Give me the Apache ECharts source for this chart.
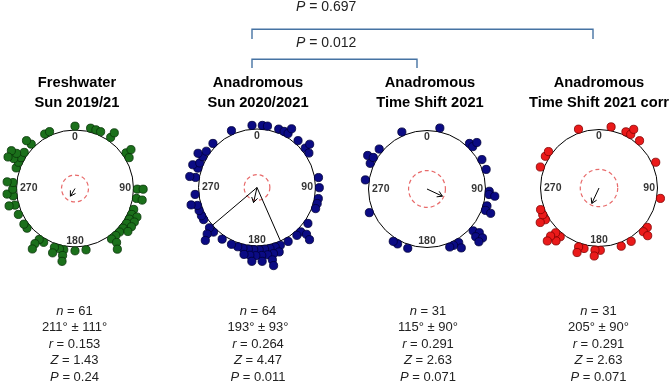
<!DOCTYPE html>
<html><head><meta charset="utf-8">
<script src="https://cdn.jsdelivr.net/npm/echarts@6/dist/echarts.min.js"></script>
<style>html,body{margin:0;padding:0;background:#fff}#c{width:669px;height:383px}</style>
</head><body><div id="c"></div>
<script>
// ---------- data ----------
const titles = ['Freshwater\nSun 2019/21', 'Anadromous\nSun 2020/2021', 'Anadromous\nTime Shift 2021', 'Anadromous\nTime Shift 2021 corr'];
const cardinalTicks = [0, 90, 180, 270];
// each observation: [angle in degrees, stacking level outside the circle]
const freshwaterSun = [
  [0,1],[14.5,1],[19.6,1],[24.3,1],[34.9,1],[35.2,2],[55.1,1],[55.2,2],[60.3,1],
  [90.6,1],[90.6,2],[99.2,1],[99.8,2],
  [109.6,1],[114.6,1],[114.7,2],[119.4,1],[119.5,2],[124.1,1],[124.1,2],[129.6,1],[129.1,2],
  [134.3,1],[139,1],[144.1,1],[142.4,2],[145.1,3],
  [169.8,1],[180,1],[190.4,1],[194.5,1],[199.3,1],[199.2,2],[190.5,2],[190.1,3],
  [210.2,1],[215.1,1],[216,2],[215.2,3],[230.4,1],[235.1,1],[245.4,1],
  [254.5,1],[255.2,2],[263.2,1],[265.3,2],[269.4,1],[275.5,1],[275.6,2],
  [289.3,1],[294.9,1],[299.7,1],[296,2],[305.4,1],[301,2],[300.7,3],[295.2,3],
  [315.4,1],[314.6,2],[330.9,1],[335.9,1]
];
const anadromousSun = [
  [355.4,1],[4.9,1],[9.7,1],[335.8,1],[20.4,1],[25.8,1],[29.9,1],[30.5,2],[41.2,1],
  [50.8,1],[50.6,2],[56.4,1],[80.8,1],[90.2,1],[100.2,1],[104.9,1],[109.8,1],
  [125.2,1],[135.4,1],[133.4,2],[134.8,3],[140.2,1],[150,1],
  [158,1],[163,1],[168,1],[173,1],[178,1],[183,1],[188,1],[193,1],[198,1],
  [161,2],[166,2],[171,2],[176,2],[181,2],[186,2],[191,2],
  [168,3],[176,3],[184,3],[168,4],
  [204.2,1],[214,1],[224.3,1],[229.7,1],[227,2],[224.3,3],
  [239,1],[243.1,1],[248.3,1],[253.3,1],[255.2,2],[263.6,1],[279.3,1],[279.3,2],
  [288.1,1],[289.5,2],[293.2,1],[299.6,1],[300.1,2],[305.6,1],[315,1]
];
const anadromousShift = [
  [11.9,1],[336.2,1],[43,1],[47.2,1],[47,2],[61.8,1],[71.7,1],[92.1,1],[95.1,1],[96.1,2],
  [105.7,1],[110.1,1],[110.9,2],[132.2,1],[129.9,2],[134.4,2],[131.4,3],[135.5,3],
  [149.4,1],[149.8,2],[154.8,1],[158.6,1],[198,1],[208.2,1],[212.8,1],[247.7,1],
  [278.4,1],[294.3,1],[299.5,2],[300.4,1],[309.9,1]
];
const anadromousShiftCorr = [
  [340.8,1],[11.2,1],[25.6,1],[30.6,1],[30.6,2],[40.6,1],[65.6,1],[99.6,1],
  [129.2,1],[134.6,1],[134.4,2],[148.9,1],[159.1,1],[178.8,1],[183.7,1],[184,2],
  [193.9,1],[199.1,1],[198.8,2],[218.5,1],[219.1,2],[224.1,1],[225.2,2],[224.3,3],
  [239.4,1],[239.6,2],[244.6,1],[249.7,1],[289.7,1],[300.6,1],[305.8,1]
];
const nValues = [61, 64, 31, 31];
const meanAngles = [211, 193, 115, 205];
const angularDev = [111, 93, 90, 90];
const rValues = ['0.153', '0.264', '0.291', '0.291'];
const zValues = ['1.43', '4.47', '2.63', '2.63'];
const pValues = ['0.24', '0.011', '0.071', '0.071'];
const critR = [0.23, 0.22, 0.315, 0.32];
const ciLimits = [null, [156.3, 229.7], null, null];
const comparisonP = ['0.697', '0.012'];

// ---------- styles / layout ----------
const datasets = [freshwaterSun, anadromousSun, anadromousShift, anadromousShiftCorr];
const dotFill = ['#1b701b', '#0b0b84', '#0b0b84', '#ea1a1a'];
const dotEdge = ['#093509', '#00003a', '#00003a', '#800000'];
const centers = [[75, 188.5], [257, 187.5], [427, 189], [599, 188]];
const R = 58.5;
const titleX = [77, 258, 430, 599];
const statsX = [74.5, 258, 428, 598.5];
const FONT = '"Liberation Sans", Arial, sans-serif';
const ring = lvl => 0.965 + 0.1 * lvl;
const labelPos = {0: ['bottom', 1], 90: ['left', 2], 180: ['top', 0], 270: ['right', 3]};

const polar = [], angleAxis = [], radiusAxis = [], series = [];
datasets.forEach((d, i) => {
  polar.push({center: centers[i], radius: R});
  radiusAxis.push({polarIndex: i, type: 'value', min: 0, max: 1, show: false});
  angleAxis.push({polarIndex: i, type: 'value', min: 0, max: 360, startAngle: 90, clockwise: true,
    axisLine: {show: true, lineStyle: {color: '#000', width: 1}},
    axisTick: {show: false}, axisLabel: {show: false}, splitLine: {show: false}});
  // cardinal labels
  series.push({type: 'scatter', coordinateSystem: 'polar', polarIndex: i, symbolSize: 1, clip: false,
    itemStyle: {color: 'transparent'}, silent: true,
    data: cardinalTicks.map(t => ({value: [1, t], label: {show: true, position: labelPos[t][0], distance: labelPos[t][1],
      formatter: String(t), fontFamily: FONT, fontWeight: 'bold', fontSize: 10.5, color: '#000'}}))});
  // observations
  series.push({type: 'scatter', coordinateSystem: 'polar', polarIndex: i, clip: false, symbolSize: 8.2,
    itemStyle: {color: dotFill[i], borderColor: dotEdge[i], borderWidth: 0.8, opacity: 1},
    emphasis: {disabled: true},
    data: d.map(p => [ring(p[1]), p[0]])});
  // confidence limits
  if (ciLimits[i]) {
    series.push({type: 'line', coordinateSystem: 'polar', polarIndex: i, symbol: 'none',
      lineStyle: {color: '#000', width: 1},
      data: [[1, ciLimits[i][0]], [0, meanAngles[i]], [1, ciLimits[i][1]]]});
  }
  // mean vector + critical circle
  series.push({type: 'custom', coordinateSystem: 'polar', polarIndex: i,
    dimensions: ['radius', 'angle', 'crit'], encode: {radius: 0, angle: 1},
    data: [[parseFloat(rValues[i]), meanAngles[i], critR[i]]],
    renderItem: function (params, api) {
      const cs = params.coordSys;
      const cx = cs.cx, cy = cs.cy;
      const tip = api.coord([api.value(0), api.value(1)]);
      const edge = api.coord([api.value(2), 0]);
      const rc = Math.hypot(edge[0] - cx, edge[1] - cy);
      const dx = tip[0] - cx, dy = tip[1] - cy, L = Math.hypot(dx, dy);
      const ux = dx / L, uy = dy / L, h = 5, w = 3;
      const b = [tip[0] - ux * h, tip[1] - uy * h];
      return {type: 'group', children: [
        {type: 'circle', shape: {cx: cx, cy: cy, r: rc}, style: {fill: 'none', stroke: '#e86a6a', lineWidth: 1.2, lineDash: [4, 3]}},
        {type: 'line', shape: {x1: cx, y1: cy, x2: tip[0], y2: tip[1]}, style: {stroke: '#000', lineWidth: 1}},
        {type: 'polyline', shape: {points: [[b[0] - uy * w, b[1] + ux * w], tip, [b[0] + uy * w, b[1] - ux * w]]},
          style: {fill: 'none', stroke: '#000', lineWidth: 1}}
      ]};
    }});
});

const graphic = [];
titles.forEach((t, i) => {
  graphic.push({type: 'text', x: titleX[i], y: 72.7, silent: true,
    style: {text: t, align: 'center', verticalAlign: 'top', fontFamily: FONT, fontWeight: 'bold', fontSize: 14.7, lineHeight: 20, fill: '#000'}});
  const rich = {i: {fontStyle: 'italic', fontFamily: FONT, fontSize: 13, lineHeight: 16.4, fill: '#222'}};
  const txt = '{i|n} = ' + nValues[i] + '\n' + meanAngles[i] + '° ± ' + angularDev[i] + '°\n{i|r} = ' + rValues[i] +
    '\n{i|Z} = ' + zValues[i] + '\n{i|P} = ' + pValues[i];
  graphic.push({type: 'text', x: statsX[i], y: 303.3, silent: true,
    style: {text: txt, rich: rich, align: 'center', verticalAlign: 'top', fontFamily: FONT, fontSize: 13, lineHeight: 16.4, fill: '#222'}});
});
// comparison brackets
const bracketColor = '#4673a3';
graphic.push({type: 'polyline', silent: true, shape: {points: [[252, 39], [252, 29.3], [593, 29.3], [593, 39]]},
  style: {fill: 'none', stroke: bracketColor, lineWidth: 1.4}});
graphic.push({type: 'polyline', silent: true, shape: {points: [[252, 68], [252, 59.3], [417, 59.3], [417, 68]]},
  style: {fill: 'none', stroke: bracketColor, lineWidth: 1.4}});
const pRich = {i: {fontStyle: 'italic', fontFamily: FONT, fontSize: 14, fill: '#222'}};
graphic.push({type: 'text', x: 296, y: 7.5, silent: true,
  style: {text: '{i|P} = ' + comparisonP[0], rich: pRich, align: 'left', verticalAlign: 'middle', fontFamily: FONT, fontSize: 14, fill: '#222'}});
graphic.push({type: 'text', x: 296, y: 43.5, silent: true,
  style: {text: '{i|P} = ' + comparisonP[1], rich: pRich, align: 'left', verticalAlign: 'middle', fontFamily: FONT, fontSize: 14, fill: '#222'}});

const chart = echarts.init(document.getElementById('c'), null, {renderer: 'canvas'});
chart.setOption({animation: false, backgroundColor: '#fff', polar, angleAxis, radiusAxis, series, graphic});
</script></body></html>
